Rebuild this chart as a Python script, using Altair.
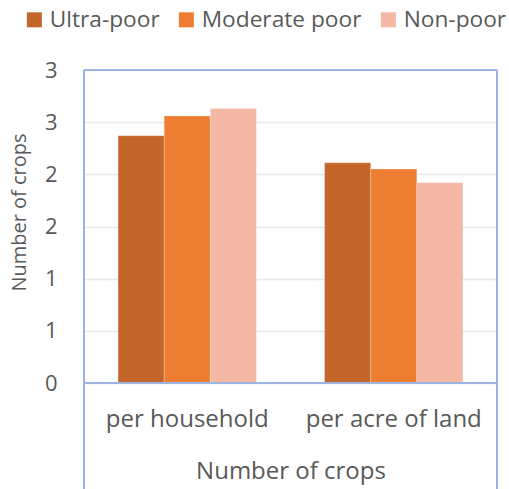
import altair as alt
import pandas as pd

# Average number of crops grown, by poverty status
categories = ["per household", "per acre of land"]
groups = ["Ultra-poor", "Moderate poor", "Non-poor"]
ultra_poor = [2.37, 2.11]
moderate_poor = [2.56, 2.05]
non_poor = [2.63, 1.92]
colors = ["#C4652A", "#ED7D31", "#F4B8A4"]
y_ticks = [0, 0.5, 1.0, 1.5, 2.0, 2.5, 3.0]

rows = []
for g, vals in zip(groups, [ultra_poor, moderate_poor, non_poor]):
    for c, v in zip(categories, vals):
        rows.append({"measure": c, "group": g, "crops": v})
df = pd.DataFrame(rows)

W, H = 413, 313
FONT = "Open Sans"
GREY = "#595959"
FRAME = "#9BB4E2"

bars = alt.Chart(df).mark_bar(stroke="white", strokeWidth=0.4, strokeOpacity=0.6).encode(
    x=alt.X(
        "measure:N",
        sort=categories,
        scale=alt.Scale(paddingInner=0.33, paddingOuter=0.165),
        axis=alt.Axis(
            title="Number of crops",
            labelFontSize=24,
            labelColor=GREY,
            labelFont=FONT,
            labelPadding=24,
            labelAngle=0,
            labelLimit=300,
            ticks=False,
            domain=False,
            titleFontSize=24,
            titleFont=FONT,
            titleColor=GREY,
            titleFontWeight="normal",
            titlePadding=28,
        ),
    ),
    xOffset=alt.XOffset("group:N", sort=groups, scale=alt.Scale(paddingInner=0, paddingOuter=0)),
    y=alt.Y(
        "crops:Q",
        scale=alt.Scale(domain=[0, 3], nice=False),
        axis=alt.Axis(
            title="Number of crops",
            values=y_ticks,
            labelExpr="round(datum.value)",
            labelFontSize=22,
            labelColor=GREY,
            labelFont=FONT,
            labelPadding=27,
            ticks=False,
            domain=False,
            gridColor="#E8E8E8",
            gridWidth=1.5,
            titleFontSize=20,
            titleFont=FONT,
            titleColor=GREY,
            titleFontWeight="normal",
            titlePadding=15,
            titleY=142,
        ),
    ),
    color=alt.Color(
        "group:N",
        sort=groups,
        scale=alt.Scale(domain=groups, range=colors),
        legend=alt.Legend(
            title=None,
            orient="none",
            direction="horizontal",
            legendX=-61,
            legendY=-62,
            symbolType="square",
            symbolSize=225,
            symbolStrokeWidth=0,
            labelFontSize=22.7,
            labelFont=FONT,
            labelColor=GREY,
            labelOffset=4,
            labelLimit=300,
            columnPadding=15,
        ),
    ),
)

# Blue frame around the plot area, with the sides running down past the labels
one = pd.DataFrame({"k": [0]})
frame_top = alt.Chart(one).mark_rule(color=FRAME, strokeWidth=2).encode(
    x=alt.value(0), x2=alt.value(W), y=alt.value(0)
)
frame_bottom = alt.Chart(one).mark_rule(color=FRAME, strokeWidth=2).encode(
    x=alt.value(0), x2=alt.value(W), y=alt.value(H)
)
frame_left = alt.Chart(one).mark_rule(color=FRAME, strokeWidth=2).encode(
    x=alt.value(0), y=alt.value(0), y2=alt.value(H + 110)
)
frame_right = alt.Chart(one).mark_rule(color=FRAME, strokeWidth=2).encode(
    x=alt.value(W), y=alt.value(0), y2=alt.value(H + 110)
)

chart = (
    alt.layer(bars, frame_top, frame_bottom, frame_left, frame_right)
    .properties(
        width=W,
        height=H,
        autosize=alt.AutoSizeParams(type="none"),
        padding={"left": 84, "top": 70, "right": 12, "bottom": 106},
    )
    .configure_view(strokeWidth=0)
    .configure(background="white")
)

chart.save("out.html", embed_options={"renderer": "svg", "actions": False})
